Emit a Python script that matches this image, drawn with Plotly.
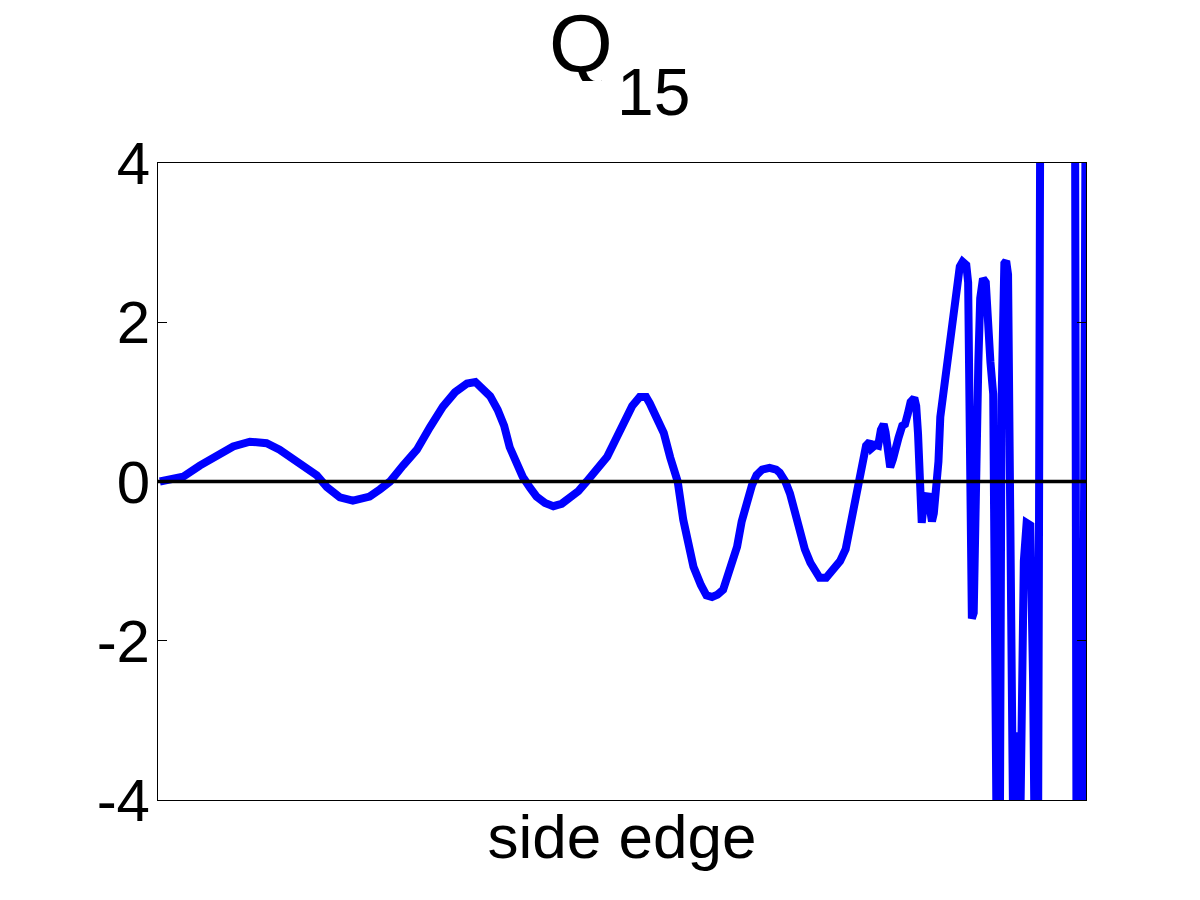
import plotly.graph_objects as go

# position along the side edge (normalized 0..1) and Q15 values
pos = [0.002, 0.013, 0.027, 0.045, 0.064, 0.081, 0.099, 0.117, 0.131, 0.142,
       0.156, 0.171, 0.182, 0.196, 0.210, 0.228, 0.239, 0.250, 0.264, 0.279,
       0.293, 0.307, 0.320, 0.333, 0.342, 0.350, 0.358, 0.366, 0.373, 0.379,
       0.387, 0.393, 0.401, 0.408, 0.417, 0.426, 0.435, 0.444, 0.453, 0.462,
       0.473, 0.484, 0.492, 0.501, 0.511, 0.519, 0.526, 0.530, 0.538, 0.545,
       0.552, 0.560, 0.566, 0.572, 0.577, 0.585, 0.591, 0.597, 0.603, 0.609,
       0.616, 0.624, 0.629, 0.634, 0.640, 0.645, 0.651, 0.659, 0.666, 0.670,
       0.676, 0.681, 0.686, 0.692, 0.697, 0.703, 0.708, 0.713, 0.720, 0.724,
       0.730, 0.735, 0.741, 0.746, 0.751, 0.757, 0.760, 0.763, 0.767, 0.769,
       0.773, 0.776, 0.779, 0.782, 0.784, 0.787, 0.789, 0.792, 0.795, 0.798,
       0.802, 0.805, 0.808, 0.811, 0.815, 0.817, 0.819, 0.820, 0.821, 0.823,
       0.825, 0.828, 0.830, 0.832, 0.834, 0.836, 0.838, 0.841, 0.843, 0.848,
       0.853, 0.859, 0.864, 0.867, 0.871, 0.873, 0.875, 0.876, 0.877, 0.879,
       0.881, 0.884, 0.886, 0.889, 0.892, 0.894, 0.897, 0.900, 0.902, 0.904,
       0.907, 0.909, 0.912, 0.914, 0.916, 0.918, 0.920, 0.922, 0.925, 0.927,
       0.929, 0.931, 0.933, 0.936, 0.940, 0.943, 0.945, 0.948, 0.951, 0.988,
       0.990, 0.996, 0.998, 1.000]
q15 = [0.0, 0.02, 0.06, 0.2, 0.33, 0.44, 0.5, 0.48, 0.40, 0.31,
       0.2, 0.08, -0.07, -0.2, -0.24, -0.19, -0.1, 0.0, 0.2, 0.4,
       0.68, 0.94, 1.12, 1.23, 1.25, 1.17, 1.07, 0.9, 0.7, 0.43,
       0.22, 0.06, -0.08, -0.19, -0.27, -0.31, -0.28, -0.21, -0.12, 0.0,
       0.16, 0.31, 0.5, 0.73, 0.95, 1.06, 1.06, 0.98, 0.8, 0.61,
       0.3, 0.0, -0.48, -0.8, -1.07, -1.3, -1.43, -1.45, -1.42, -1.36,
       -1.1, -0.82, -0.5, -0.27, -0.05, 0.08, 0.15, 0.17, 0.15, 0.11,
       0.0, -0.15, -0.4, -0.65, -0.85, -1.02, -1.13, -1.21, -1.21, -1.15,
       -1.07, -1.0, -0.85, -0.55, -0.35, 0.0, 0.25, 0.45, 0.5, 0.42,
       0.46, 0.45, 0.65, 0.72, 0.62, 0.35, 0.18, 0.28, 0.45, 0.55,
       0.7, 0.72, 0.85, 1.0, 1.05, 0.95, 0.6, 0.0, -0.4, -0.52,
       -0.3, -0.2, -0.15, -0.35, -0.5, -0.4, -0.15, 0.25, 0.81, 1.3,
       1.70, 2.3, 2.7, 2.76, 2.72, 2.5, 0.5, -1.0, -1.72, -1.65,
       0.0, 1.5, 2.3, 2.55, 2.5, 2.0, 1.5, 1.1, -1.0, -5.0,
       -5.0, 1.0, 2.74, 2.77, 2.6, 0.0, -3.5, -5.0, -3.5, -3.15,
       -4.5, -3.0, -1.0, -0.52, -0.55, -2.5, -5.0, -6.0, 6.0, 6.0,
       -6.0, -6.0, 6.0, 6.0]

zero_x = [0.0, 1.0]
zero_y = [0.0, 0.0]
y_ticks = [-4, -2, 0, 2, 4]
title_main = "Q"
title_sub = "15"
x_label = "side edge"

FONT = "Liberation Sans, Arial, sans-serif"

fig = go.Figure()
fig.add_trace(go.Scatter(x=pos, y=q15, mode="lines",
                         line=dict(color="#0000ff", width=8),
                         showlegend=False, hoverinfo="skip"))
fig.add_trace(go.Scatter(x=zero_x, y=zero_y, mode="lines",
                         line=dict(color="black", width=3.5),
                         showlegend=False, hoverinfo="skip"))

fig.update_layout(
    width=1200, height=900,
    margin=dict(l=150, r=122, t=155, b=108),
    paper_bgcolor="white", plot_bgcolor="white",
    font=dict(family=FONT, color="black", size=58),
    annotations=[
        dict(text=title_main, xref="paper", yref="paper",
             x=0.456, y=1.188, xanchor="center", yanchor="middle",
             height=76, valign="middle",
             showarrow=False, font=dict(family=FONT, size=82, color="black")),
        dict(text=title_sub, xref="paper", yref="paper",
             x=0.534, y=1.112, xanchor="center", yanchor="middle",
             showarrow=False, font=dict(family=FONT, size=66, color="black")),
    ],
)
fig.update_xaxes(range=[0, 1], showticklabels=False, ticks="",
                 showgrid=False, zeroline=False,
                 showline=True, linecolor="black", linewidth=1, mirror=True,
                 title=dict(text=x_label, standoff=14,
                            font=dict(family=FONT, size=62)))
fig.update_yaxes(range=[-4, 4], tickvals=y_ticks,
                 ticktext=[str(v) for v in y_ticks],
                 ticks="inside", ticklen=9, tickcolor="black",
                 ticklabelstandoff=-5,
                 showgrid=False, zeroline=False,
                 showline=True, linecolor="black", linewidth=1, mirror="ticks",
                 tickfont=dict(family=FONT, size=60))

fig.write_html("out.html")
